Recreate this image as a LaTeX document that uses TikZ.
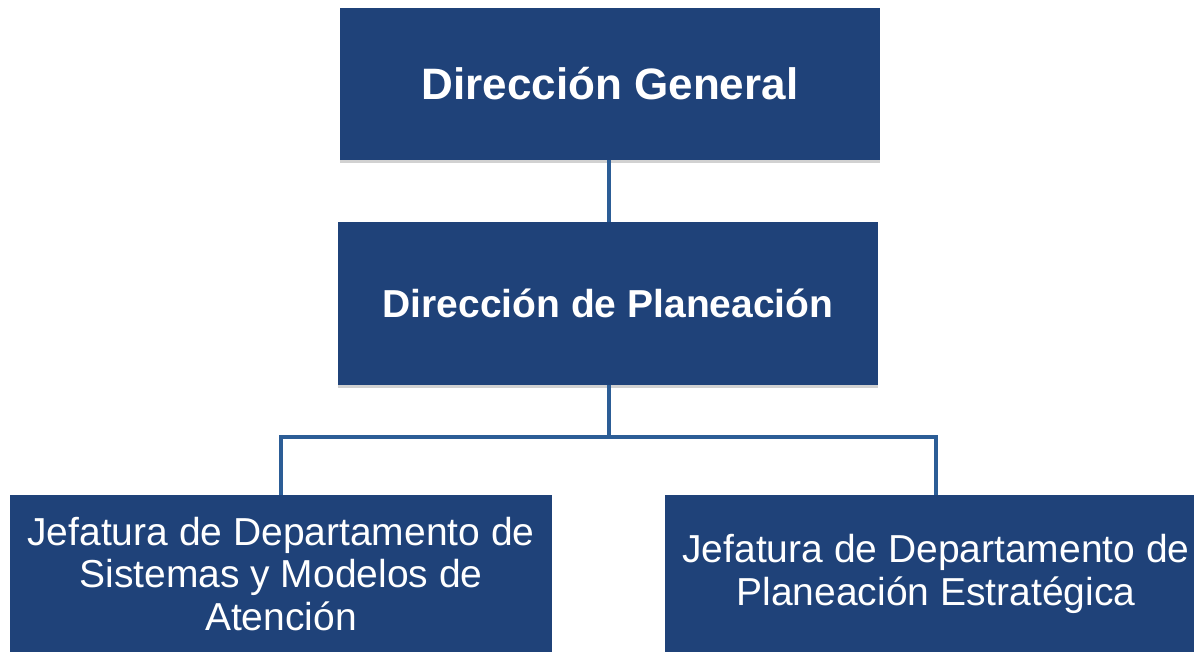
\documentclass[tikz,border=0pt]{standalone}
\usepackage{fontspec}
\setmainfont{Liberation Sans}
\usetikzlibrary{shadows}
\definecolor{orgblue}{HTML}{1F4279}
\definecolor{orglink}{HTML}{2C5D96}

\begin{document}
\begin{tikzpicture}[x=1pt, y=-1pt,
    orgbox/.style={fill=orgblue, text=white, inner sep=0pt, align=center,
                   drop shadow={shadow xshift=0pt, shadow yshift=-3pt, opacity=.18, fill=black}},
    orglinkline/.style={draw=orglink, line width=4.5pt}]
  \useasboundingbox (0,0) rectangle (1194,651);
  \clip (0,0) rectangle (1194,651);

  \node[orgbox, minimum width=540pt, minimum height=152pt,
        font=\fontsize{44}{50}\selectfont\bfseries] (general) at (610,84) {Dirección General};
  \node[orgbox, minimum width=540pt, minimum height=163pt,
        font=\fontsize{39}{45}\selectfont\bfseries] (planeacion) at (608,303.5) {Dirección de Planeación};
  \node[orgbox, minimum width=542pt, minimum height=158pt,
        font=\fontsize{39}{42.5}\selectfont] (sistemas) at (281,574)
        {Jefatura de Departamento de\\Sistemas y Modelos de\\Atención};
  \node[orgbox, minimum width=542pt, minimum height=158pt,
        font=\fontsize{39}{42.5}\selectfont] (estrategica) at (936,574)
        {Jefatura de Departamento de\\Planeación Estratégica};

  \coordinate (bus) at (609,437);
  \draw[orglinkline] (general.south -| bus) -- (planeacion.north -| bus);
  \draw[orglinkline] (planeacion.south -| bus) -- (bus);
  \draw[orglinkline, line join=miter] (bus) -| (sistemas.north);
  \draw[orglinkline, line join=miter] (bus) -| (estrategica.north);
\end{tikzpicture}
\end{document}
